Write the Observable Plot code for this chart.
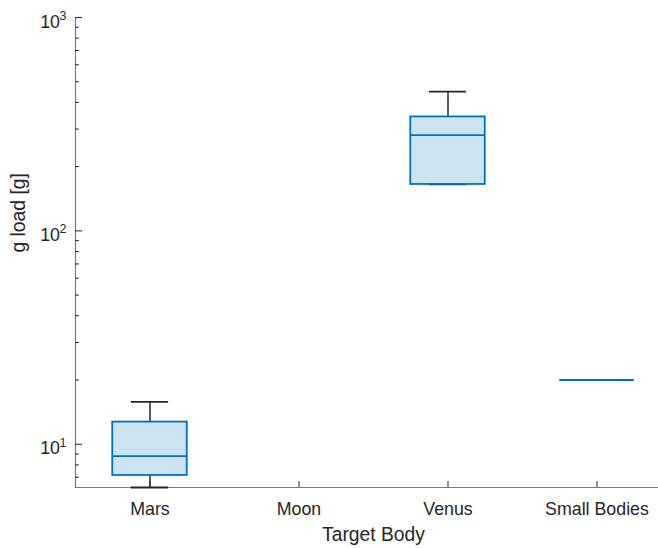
<!DOCTYPE html>
<html>
<head>
<meta charset="utf-8">
<script src="https://cdn.jsdelivr.net/npm/d3@7"></script>
<script src="https://cdn.jsdelivr.net/npm/@observablehq/plot@0.6"></script>
<style>
  html, body { margin: 0; padding: 0; background: #fff; }
  #chart { width: 658px; height: 548px; overflow: hidden; }
</style>
</head>
<body>
<div id="chart"></div>
<script>
// Box statistics of g load per target body (Moon has no entries)
const categories = ["Mars", "Moon", "Venus", "Small Bodies"];
const whiskerLow = [6.27, null, 165, 20];
const quartile1 = [7.14, null, 165, 20];
const medians = [8.79, null, 281, 20];
const quartile3 = [12.7, null, 342, 20];
const whiskerHigh = [15.8, null, 449, 20];

// Log axis decades and minor ticks
const yTickExponents = [1, 2, 3];
const yMinorTicks = [7, 8, 9, 20, 30, 40, 50, 60, 70, 80, 90, 200, 300, 400, 500, 600, 700, 800, 900];
const yMax = 1000;

const xLabel = "Target Body";
const yLabel = "g load [g]";

const rows = categories
  .map((name, i) => ({
    name, i,
    low: whiskerLow[i], q1: quartile1[i], med: medians[i], q3: quartile3[i], high: whiskerHigh[i]
  }))
  .filter(d => d.med != null);

const boxWidth = 0.5;
const capWidth = 0.25;
const blue = "#0072BD";
const ink = "#262626";
const font = "'Liberation Sans', Arial, Helvetica, sans-serif";
const majors = yTickExponents.map(e => Math.pow(10, e));
const yMin = d3.min(whiskerLow.filter(v => v != null));

const chart = Plot.plot({
  width: 658,
  height: 548,
  marginLeft: 75,
  marginRight: -13,
  marginTop: 17,
  marginBottom: 61,
  style: { background: "#fff", color: ink, fontFamily: font, overflow: "hidden" },
  x: { type: "linear", domain: [-0.5, categories.length - 0.5], axis: null },
  y: { type: "log", domain: [yMin, yMax], axis: null },
  marks: [
    // axis lines
    Plot.ruleX([-0.5], { stroke: "#7a7a7a", strokeWidth: 1.2 }),
    Plot.ruleY([yMin], { stroke: "#7a7a7a", strokeWidth: 1.2 }),

    // inward tick marks
    Plot.axisY({ ticks: majors, tickSize: -7, fill: "none", label: null, stroke: ink, strokeWidth: 1 }),
    Plot.axisY({ ticks: yMinorTicks, tickSize: -4, fill: "none", label: null, stroke: ink, strokeWidth: 1 }),
    Plot.axisX({ ticks: d3.range(categories.length), tickSize: -6, fill: "none", label: null, stroke: ink, strokeWidth: 1 }),

    // y tick labels: base "10" and exponent
    Plot.axisY({ ticks: majors, tickSize: 0, tickPadding: 15.5, tickFormat: () => "10",
      fontSize: 17.8, dy: 4.3, label: null, fill: ink }),
    Plot.axisY({ ticks: majors, tickSize: 0, tickPadding: 9, tickFormat: d => String(Math.round(Math.log10(d))),
      fontSize: 12.5, dy: -1.6, label: null, fill: ink }),

    // x tick labels
    Plot.axisX({ ticks: d3.range(categories.length), tickSize: 0, tickPadding: 15,
      tickFormat: i => categories[i], fontSize: 17.8, label: null, fill: ink }),

    // axis titles
    Plot.text([xLabel], { frameAnchor: "bottom", text: d => d, dy: 39.5, lineAnchor: "top",
      fontSize: 19.3, fill: ink }),
    Plot.text([yLabel], { frameAnchor: "left", text: d => d, rotate: -90, dx: -56.4, lineAnchor: "middle",
      fontSize: 19.3, fill: ink }),

    // whiskers
    Plot.ruleX(rows, { x: "i", y1: "q3", y2: "high", stroke: ink, strokeWidth: 1.5 }),
    Plot.ruleX(rows, { x: "i", y1: "low", y2: "q1", stroke: ink, strokeWidth: 1.5 }),
    Plot.ruleY(rows, { y: "high", x1: d => d.i - capWidth / 2, x2: d => d.i + capWidth / 2, stroke: ink, strokeWidth: 1.8 }),
    Plot.ruleY(rows, { y: "low", x1: d => d.i - capWidth / 2, x2: d => d.i + capWidth / 2, stroke: ink, strokeWidth: 1.8 }),

    // boxes
    Plot.rect(rows, { x1: d => d.i - boxWidth / 2, x2: d => d.i + boxWidth / 2, y1: "q1", y2: "q3",
      fill: blue, fillOpacity: 0.2, stroke: blue, strokeWidth: 1.8 }),

    // medians
    Plot.ruleY(rows, { y: "med", x1: d => d.i - boxWidth / 2, x2: d => d.i + boxWidth / 2, stroke: blue, strokeWidth: 1.8 })
  ]
});

document.getElementById("chart").appendChild(chart);
</script>
</body>
</html>
